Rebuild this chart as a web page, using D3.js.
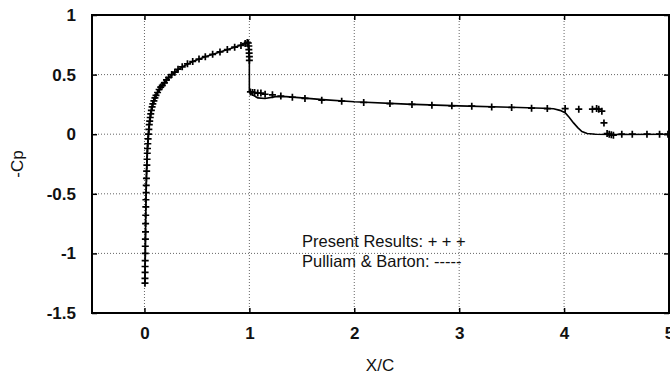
<!DOCTYPE html>
<meta charset="utf-8">
<style>
body { margin: 0; background: #fff; font-family: "Liberation Sans", Arial, sans-serif; }
.grid line { stroke: #666; stroke-width: 1px; stroke-dasharray: 1,2; }
.lbl { font-weight: bold; font-size: 17px; fill: #111; }
.leg { font-size: 16.5px; fill: #111; }
</style>
<body>
<script src="https://d3js.org/d3.v7.min.js"></script>
<script>

var width = 670,
    height = 376,
    plotL = 92, plotR = 669, plotT = 15, plotB = 313;

// Present Results (+ markers)
var presentX = [0.005,0.005,0.006,0.006,0.007,0.008,0.008,0.009,0.010,0.011,0.012,0.013,0.014,0.016,0.017,0.019,0.021,0.023,0.025,0.027,0.029,0.032,0.035,0.038,
  0.042,0.046,0.05,0.055,0.06,0.066,0.073,0.08,0.09,0.1,0.11,0.125,0.14,0.155,0.17,0.19,0.21,0.23,0.26,0.29,0.32,0.36,0.41,0.46,0.52,0.58,0.65,0.72,0.79,0.86,0.92,0.96,0.98,0.99,0.995,0.995,0.998,1.0,1.0,
  1.01,1.03,1.05,1.08,1.11,1.15,1.22,1.30,1.41,1.53,1.69,1.88,2.09,2.34,2.55,2.74,2.93,3.12,3.31,3.50,3.69,3.84,4.01,4.14,4.27,4.31,4.33,4.36,4.38,4.41,4.43,4.45,4.47,4.55,4.65,4.79,4.91,4.99];
var presentCp = [-1.25,-1.21,-1.16,-1.11,-1.06,-1.00,-0.94,-0.88,-0.82,-0.75,-0.68,-0.61,-0.55,-0.49,-0.43,-0.37,-0.31,-0.26,-0.21,-0.16,-0.12,-0.08,-0.04,0.0,
  0.04,0.08,0.11,0.14,0.17,0.2,0.23,0.255,0.28,0.305,0.325,0.35,0.375,0.395,0.41,0.43,0.455,0.475,0.5,0.52,0.545,0.565,0.59,0.61,0.63,0.65,0.67,0.69,0.71,0.73,0.745,0.76,0.77,0.765,0.74,0.71,0.68,0.65,0.62,
  0.355,0.35,0.35,0.345,0.345,0.335,0.33,0.32,0.31,0.30,0.285,0.277,0.266,0.257,0.25,0.243,0.238,0.235,0.229,0.224,0.218,0.215,0.215,0.21,0.21,0.215,0.21,0.193,0.095,0.005,0.0,-0.005,-0.008,0.0,0.0,0.0,0.0,0.0];

// Pulliam & Barton (solid line)
var pbX = [0.005,0.01,0.015,0.02,0.025,0.03,0.038,0.046,0.055,0.066,0.08,0.1,0.125,0.155,0.19,0.23,0.29,0.36,0.46,0.58,0.72,0.86,0.96,0.98,0.995,1.0,1.0,
  1.03,1.08,1.15,1.25,1.35,1.5,1.7,2.0,2.5,3.0,3.5,3.8,3.9,3.96,4.01,4.05,4.09,4.13,4.17,4.22,4.3,4.5,5.0];
var pbCp = [-1.25,-0.85,-0.52,-0.3,-0.18,-0.1,0.0,0.08,0.14,0.2,0.255,0.305,0.35,0.395,0.43,0.475,0.52,0.565,0.61,0.65,0.69,0.73,0.76,0.77,0.7,0.62,0.36,
  0.33,0.305,0.30,0.315,0.315,0.305,0.29,0.272,0.252,0.238,0.226,0.218,0.213,0.2,0.18,0.14,0.095,0.055,0.022,0.006,0.0,-0.002,0.0];

var xTicks = [0, 1, 2, 3, 4, 5];
var yTicks = [-1.5, -1, -0.5, 0, 0.5, 1];
var legendLines = ["Present Results: + + +", "Pulliam & Barton: -----"];

var x = d3.scaleLinear().domain([-0.5, 5]).range([plotL, plotR]);
var y = d3.scaleLinear().domain([-1.5, 1]).range([plotB, plotT]);

var svg = d3.select("body").append("svg")
    .attr("width", width)
    .attr("height", height);

// grid
var grid = svg.append("g").attr("class", "grid");
grid.selectAll(".gx").data(xTicks.filter(function(d){ return d < 5; }))
  .enter().append("line")
  .attr("x1", function(d){ return x(d); }).attr("x2", function(d){ return x(d); })
  .attr("y1", plotT).attr("y2", plotB);
grid.selectAll(".gy").data(yTicks.filter(function(d){ return d > -1.5 && d < 1; }))
  .enter().append("line")
  .attr("x1", plotL).attr("x2", plotR)
  .attr("y1", function(d){ return y(d); }).attr("y2", function(d){ return y(d); });

// axes (ticks inward, labels)
var xAxis = d3.axisBottom(x).tickValues(xTicks).tickSize(-5).tickPadding(14).tickFormat(d3.format("d"));
var yAxis = d3.axisLeft(y).tickValues(yTicks).tickSize(-5).tickPadding(16).tickFormat(function(d){ return String(d); });
var gx = svg.append("g").attr("transform", "translate(0," + plotB + ")").call(xAxis);
var gy = svg.append("g").attr("transform", "translate(" + plotL + ",0)").call(yAxis);
var gxt = svg.append("g").attr("transform", "translate(0," + plotT + ")").call(d3.axisTop(x).tickValues(xTicks).tickSize(-5).tickFormat(""));
var gyr = svg.append("g").attr("transform", "translate(" + plotR + ",0)").call(d3.axisRight(y).tickValues(yTicks).tickSize(-5).tickFormat(""));
[gx, gy, gxt, gyr].forEach(function(g){
  g.select(".domain").remove();
  g.selectAll(".tick line").attr("stroke", "#000").attr("stroke-width", 1.5);
  g.selectAll("text").attr("class", "lbl").attr("fill", "#111").style("font-family", "'Liberation Sans', Arial, sans-serif");
});

// frame
svg.append("rect")
  .attr("x", plotL).attr("y", plotT)
  .attr("width", plotR - plotL).attr("height", plotB - plotT)
  .attr("fill", "none").attr("stroke", "#000").attr("stroke-width", 2);

// Pulliam & Barton line
var pb = pbX.map(function(d, i){ return [d, pbCp[i]]; });
svg.append("path")
  .datum(pb)
  .attr("fill", "none").attr("stroke", "#000").attr("stroke-width", 1.6)
  .attr("d", d3.line().x(function(d){ return x(d[0]); }).y(function(d){ return y(d[1]); }));

// Present results markers
var pr = presentX.map(function(d, i){ return [d, presentCp[i]]; });
var s = 3.5;
svg.append("g").selectAll("path").data(pr)
  .enter().append("path")
  .attr("fill", "none").attr("stroke", "#000").attr("stroke-width", 1.7)
  .attr("d", function(d){
    var cx = x(d[0]), cy = y(d[1]);
    return "M" + (cx - s) + "," + cy + "H" + (cx + s) + "M" + cx + "," + (cy - s) + "V" + (cy + s);
  });

// legend
svg.selectAll(".leg").data(legendLines)
  .enter().append("text")
  .attr("class", "leg")
  .attr("x", 302)
  .attr("y", function(d, i){ return 247 + i * 19.5; })
  .text(function(d){ return d; });

// axis titles
svg.append("text").attr("class", "lbl").style("font-weight", "normal").attr("font-size", 16)
  .attr("x", 380).attr("y", 371).attr("text-anchor", "middle").text("X/C");
svg.append("text").attr("class", "lbl").style("font-weight", "normal")
  .attr("transform", "translate(23,164) rotate(-90)").attr("text-anchor", "middle").text("-Cp");

</script>
